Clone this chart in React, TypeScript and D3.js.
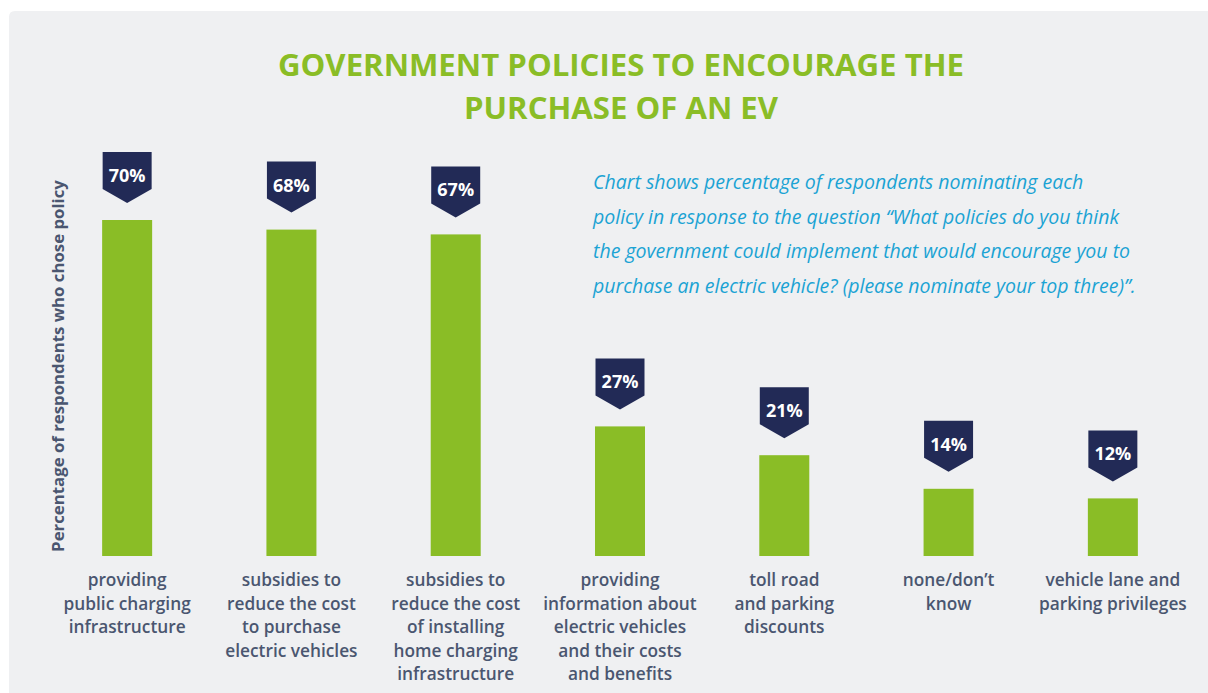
import React from "react";
import * as d3 from "d3";

const categories: string[][] = [
  ["providing", "public charging", "infrastructure"],
  ["subsidies to", "reduce the cost", "to purchase", "electric vehicles"],
  ["subsidies to", "reduce the cost", "of installing", "home charging", "infrastructure"],
  ["providing", "information about", "electric vehicles", "and their costs", "and benefits"],
  ["toll road", "and parking", "discounts"],
  ["none/don’t", "know"],
  ["vehicle lane and", "parking privileges"],
];
const values: number[] = [70, 68, 67, 27, 21, 14, 12];
const titleLines = ["GOVERNMENT POLICIES TO ENCOURAGE THE", "PURCHASE OF AN EV"];
const noteLines = [
  "Chart shows percentage of respondents nominating each",
  "policy in response to the question “What policies do you think",
  "the government could implement that would encourage you to",
  "purchase an electric vehicle? (please nominate your top three)”.",
];
const yLabel = "Percentage of respondents who chose policy";

const W = 1208;
const H = 693;
const GREEN = "#8abd26";
const NAVY = "#222a56";
const LABEL = "#4a5670";
const NOTE = "#1ba3d4";
const SANS = "'Open Sans', 'Noto Sans', sans-serif";

export default function App() {
  const idx = values.map((_, i) => String(i));
  const x = d3.scaleBand<string>().domain(idx).range([45, 1195]).padding(0);
  const baseY = 556;
  const y = d3.scaleLinear().domain([0, 70]).range([baseY, 220]);
  const barW = 50;

  return (
    <svg
      width={W}
      height={H}
      style={{ position: "absolute", left: 0, top: 0 }}
    >
      <rect x={0} y={0} width={W} height={H} fill="#ffffff" />
      <path
        d={`M9,${H + 10} L9,17 Q9,11 15,11 L${W + 10},11 L${W + 10},${H + 10} Z`}
        fill="#eff0f2"
      />
      {titleLines.map((t, i) => (
        <text
          key={t}
          x={621}
          y={i === 0 ? 76 : 119}
          textAnchor="middle"
          fontFamily={SANS}
          fontWeight={700}
          fontSize={30}
          fill={GREEN}
          textLength={i === 0 ? 686 : 314}
          lengthAdjust="spacingAndGlyphs"
        >
          {t}
        </text>
      ))}
      {noteLines.map((t, i) => (
        <text
          key={t}
          x={593}
          y={189 + i * 34.5}
          fontFamily={SANS}
          fontStyle="italic"
          fontSize={19.5}
          fill={NOTE}
        >
          {t}
        </text>
      ))}
      <text
        transform={`translate(64,${366}) rotate(-90)`}
        textAnchor="middle"
        fontFamily={SANS}
        fontWeight={700}
        fontSize={16.8}
        fill={LABEL}
      >
        {yLabel}
      </text>
      {values.map((v, i) => {
        const cx = (x(String(i)) as number) + x.bandwidth() / 2;
        const top = y(v);
        const bx0 = cx - 24.5;
        const bx1 = cx + 24.5;
        const bTop = top - 68;
        const bBot = top - 31;
        const tip = top - 17;
        return (
          <g key={i}>
            <rect x={cx - barW / 2} y={top} width={barW} height={baseY - top} fill={GREEN} />
            <path
              d={`M${bx0},${bTop} L${bx1},${bTop} L${bx1},${bBot} L${cx},${tip} L${bx0},${bBot} Z`}
              fill={NAVY}
            />
            <text
              x={cx}
              y={top - 38}
              textAnchor="middle"
              fontFamily={SANS}
              fontWeight={700}
              fontSize={18}
              fill="#ffffff"
            >
              {v}%
            </text>
            {categories[i].map((line, j) => (
              <text
                key={j}
                x={cx}
                y={586 + j * 23.5}
                textAnchor="middle"
                fontFamily={SANS}
                fontWeight={600}
                fontSize={17.3}
                fill={LABEL}
              >
                {line}
              </text>
            ))}
          </g>
        );
      })}
    </svg>
  );
}
